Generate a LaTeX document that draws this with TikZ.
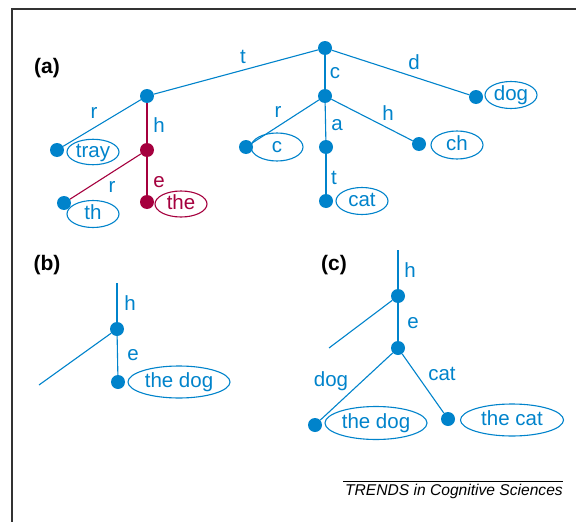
\documentclass[tikz,border=0pt]{standalone}
\usepackage{fontspec}
\setmainfont{Liberation Sans}
\usetikzlibrary{shapes.geometric}
\definecolor{triblue}{RGB}{0,131,203}
\definecolor{trired}{RGB}{165,0,62}
\tikzset{
  dot/.style={circle, fill=triblue, inner sep=0pt, minimum size=14pt},
  reddot/.style={dot, fill=trired},
  edge/.style={draw=triblue, line width=1.1pt},
  rededge/.style={draw=trired, line width=1.1pt},
  word/.style={ellipse, draw=triblue, line width=1.1pt, inner sep=0pt,
    minimum width=52pt, minimum height=27pt, text=triblue,
    text height=14pt, text depth=4pt, font=\fontsize{20.5}{23}\selectfont},
  redword/.style={word, draw=trired, text=trired},
  phrase/.style={word, minimum width=102pt, minimum height=32pt},
  lbl/.style={inner sep=0pt, text=triblue, font=\fontsize{20.5}{23}\selectfont},
  redlbl/.style={lbl, text=trired},
  panel/.style={inner sep=0pt, font=\fontsize{21}{24}\selectfont\bfseries}
}
\begin{document}
\begin{tikzpicture}[x=1pt, y=-1pt]
\useasboundingbox (0,0) rectangle (576,522);
	% frame
	\draw[black!80, line width=1.1pt] (12,522) -- (12,9) -- (576,9);
	% (a) the trie
	\node[panel] (pa) at (47,68) {(a)};
	\node[dot] (root) at (325,48) {};
	\node[dot] (t1) at (147,96) {};
	\node[dot] (c1) at (325,96) {};
	\node[dot] (d1) at (476,97) {};
	\node[dot] (tr) at (57,150) {};
	\node[reddot] (th1) at (147,150) {};
	\node[dot] (thr) at (64,203) {};
	\node[reddot] (the) at (147,202) {};
	\node[dot] (cr) at (246,147) {};
	\node[dot] (ca) at (326,147) {};
	\node[dot] (ch) at (419,144) {};
	\node[dot] (cat) at (326,201) {};
	\node[word] (wdog) at (511,95) {dog};
	\node[word, minimum height=23pt] (wtray) at (93,152) {tray};
	\node[word] (wth) at (93,214) {th};
	\node[redword, minimum height=26pt] (wthe) at (181,204) {the};
	\node[word, minimum height=28pt] (wc) at (277,147) {c};
	\node[word, minimum height=28pt] (wch) at (457,145) {ch};
	\node[word] (wcat) at (362,201) {cat};
	\draw[edge] (root) -- (t1);
	\draw[edge] (root) -- (c1);
	\draw[edge] (root) -- (d1);
	\draw[edge] (t1) -- (tr);
	\draw[rededge] (t1) -- (th1);
	\draw[rededge] (th1) -- (thr);
	\draw[rededge] (th1) -- (the);
	\draw[edge] (c1) -- (cr);
	\draw[edge] (c1) -- (ca);
	\draw[edge] (c1) -- (ch);
	\draw[edge] (ca) -- (cat);
	\node[lbl] (lt) at (243,57) {t};
	\node[lbl] (ld) at (414,62) {d};
	\node[lbl] (lc) at (335,73) {c};
	\node[lbl] (lr1) at (94,113) {r};
	\node[lbl] (lh1) at (159,125) {h};
	\node[lbl] (lr2) at (278,112) {r};
	\node[lbl] (la) at (337,125) {a};
	\node[lbl] (lh2) at (388,113) {h};
	\node[lbl] (lr3) at (112,187) {r};
	\node[redlbl] (le1) at (159,182) {e};
	\node[lbl] (lt2) at (334,178) {t};
	% (b)
	\node[panel] (pb) at (47,265) {(b)};
	\coordinate (btop) at (117,283);
	\coordinate (bfree) at (39,385);
	\node[dot] (bh) at (117,329) {};
	\node[dot] (be) at (118,382) {};
	\node[phrase] (bdog) at (179,382) {the dog};
	\draw[edge] (btop) -- (bh);
	\draw[edge] (bh) -- (be);
	\draw[edge] (bh) -- (bfree);
	\node[lbl] (lbh) at (130,303) {h};
	\node[lbl] (lbe) at (133,355) {e};
	% (c)
	\node[panel] (pc) at (334,265) {(c)};
	\coordinate (ctop) at (398,250);
	\coordinate (cfree) at (329,348);
	\node[dot] (ch1) at (398,296) {};
	\node[dot] (ce1) at (398,348) {};
	\node[dot] (cdg) at (315,425) {};
	\node[dot] (cct) at (448,419) {};
	\node[phrase, minimum height=33pt] (cdog) at (376,423) {the dog};
	\node[phrase, minimum width=103pt] (ccat) at (512,420) {the cat};
	\draw[edge] (ctop) -- (ch1);
	\draw[edge] (ch1) -- (ce1);
	\draw[edge] (ch1) -- (cfree);
	\draw[edge] (ce1) -- (cdg);
	\draw[edge] (ce1) -- (cct);
	\node[lbl] (lch) at (410,270) {h};
	\node[lbl] (lce) at (413,323) {e};
	\node[lbl] (lcdog) at (331,381) {dog};
	\node[lbl] (lccat) at (442,374) {cat};
	% credit line
	\coordinate (rulea) at (343,481);
	\coordinate (ruleb) at (563,481);
	\draw[line width=0.8pt] (rulea) -- (ruleb);
	\node[anchor=base east, inner sep=0pt, font=\fontsize{15.6}{18}\selectfont\itshape] (trends) at (563,495.5) {TRENDS in Cognitive Sciences};
\end{tikzpicture}
\end{document}
